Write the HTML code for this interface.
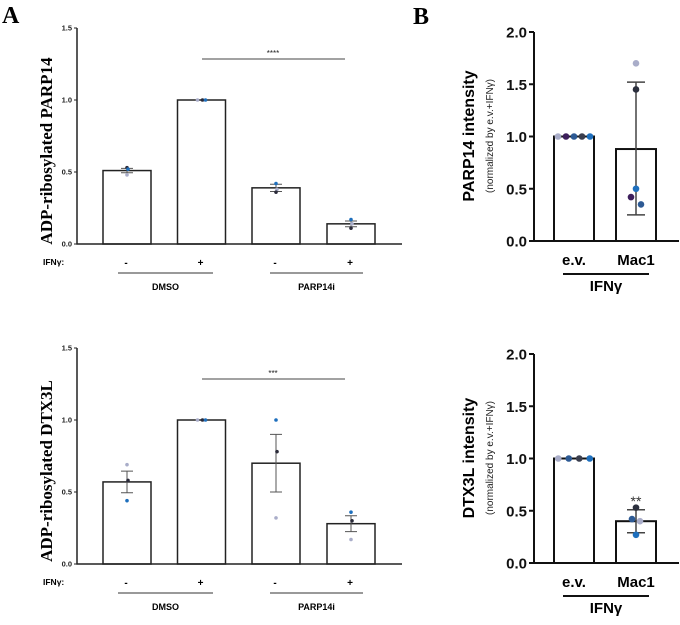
<!DOCTYPE html>
<html><head><meta charset="utf-8"><style>
body{margin:0;background:#fff;}
svg{display:block;font-family:"Liberation Sans",sans-serif;}
</style></head><body>
<svg id="fig" width="680" height="625" viewBox="0 0 680 625" xmlns="http://www.w3.org/2000/svg">
<text x="2" y="23" font-family="Liberation Serif" font-weight="bold" font-size="24">A</text>
<text x="413" y="24" font-family="Liberation Serif" font-weight="bold" font-size="24">B</text>
</svg>
<script>
// Panel A top: PARP14
const aCats = ["DMSO -", "DMSO +", "PARP14i -", "PARP14i +"];
const aTopMeans = [0.51, 1.0, 0.39, 0.14];
const aTopErr = [0.015, 0.0, 0.025, 0.02];
const aTopDots = [[0.53,0.52,0.48],[1.0,1.0,1.0],[0.42,0.38,0.36],[0.17,0.14,0.11]];
// Panel A bottom: DTX3L
const aBotMeans = [0.57, 1.0, 0.70, 0.28];
const aBotErr = [0.075, 0.0, 0.20, 0.055];
const aBotDots = [[0.69,0.58,0.44],[1.0,1.0,1.0],[1.0,0.78,0.32],[0.36,0.30,0.17]];
const aTicks = [0.0, 0.5, 1.0, 1.5];
// Panel B
const bCats = ["e.v.", "Mac1"];
const bTopMeans = [1.0, 0.88];
const bTopErrLow = [1.0, 0.25];
const bTopErrHigh = [1.0, 1.52];
const bTopDots = [[1,1,1,1,1],[1.70,1.45,0.50,0.42,0.35]];
const bBotMeans = [1.0, 0.40];
const bBotErrLow = [1.0, 0.29];
const bBotErrHigh = [1.0, 0.51];
const bBotDots = [[1,1,1,1],[0.53,0.42,0.40,0.27]];
const bTicks = [0.0, 0.5, 1.0, 1.5, 2.0];

const NS="http://www.w3.org/2000/svg";
const svg=document.getElementById('fig');
function mk(tag,attrs,parent){const e=document.createElementNS(NS,tag);for(const k in attrs)e.setAttribute(k,attrs[k]);(parent||svg).appendChild(e);return e;}
function txt(x,y,s,attrs,parent){const e=mk('text',Object.assign({x:x,y:y},attrs),parent);e.textContent=s;return e;}
const dotColsA=[["#2b2b3a","#1e6fbd","#a9adc9"],["#a9adc9","#2b2b3a","#1e6fbd"],["#1e6fbd","#a9adc9","#2b2b3a"],["#1e6fbd","#a9adc9","#2b2b3a"]];
const dotColsABot=[["#a9adc9","#2b2b3a","#1e6fbd"],["#a9adc9","#2b2b3a","#1e6fbd"],["#1e6fbd","#2b2b3a","#a9adc9"],["#1e6fbd","#2b2b3a","#a9adc9"]];

function panelA(oy,means,err,dots,cols,title,stars,name){
  const g=mk('g',{});
  
  
  const y0=oy+215, yS=v=>y0-v*144, axX=77;
  const xs=[127,201.5,276,351], bw=48;
  aTicks.forEach(t=>{
    const l=mk('line',{x1:axX-3,x2:axX,y1:yS(t),y2:yS(t),stroke:'#222','stroke-width':1},g);
    
    const tl=txt(axX-5,yS(t)+2.5,t.toFixed(1),{'font-size':7.5,'font-weight':'bold','text-anchor':'end',fill:'#222'},g);
    
  });
  means.forEach((m,i)=>{
    const r=mk('rect',{x:xs[i]-bw/2,y:yS(m),width:bw,height:m*144,fill:'#fff',stroke:'#222','stroke-width':1.5},g);
    
    if(err[i]>0){
      const e=mk('path',{d:`M${xs[i]} ${yS(m-err[i])}V${yS(m+err[i])}M${xs[i]-6} ${yS(m-err[i])}h12M${xs[i]-6} ${yS(m+err[i])}h12`,stroke:'#555','stroke-width':1,fill:'none'},g);
      
    }
    dots[i].forEach((d,j)=>{
      const dx = dots[i].every(v=>v===dots[i][0]) ? (j-1)*4 : 0;
      const c=mk('circle',{cx:xs[i]+dx+(j===1&&dx===0?1:0),cy:yS(d),r:1.8,fill:cols[i][j]},g);
      
    });
  });
  const ax=mk('path',{d:`M${axX} ${yS(1.5)}V${y0}H402`,stroke:'#222','stroke-width':1.5,fill:'none'},g);
  
  const sl=mk('line',{x1:202,x2:345,y1:oy+30,y2:oy+30,stroke:'#444','stroke-width':1},g);
  
  const st=txt(273,oy+27,stars,{'font-size':8,'text-anchor':'middle',fill:'#222'},g);
  
  const yt=txt(0,0,title,{'font-family':'Liberation Serif','font-weight':'bold','font-size':17,'text-anchor':'middle',transform:`translate(52 ${oy+122}) rotate(-90)`},g);
  
  const il=txt(43,oy+236,'IFNγ:',{'font-size':8.5,'font-weight':'bold'},g);
  
  ['-','+','-','+'].forEach((s,i)=>{const t=txt(xs[i]-1,oy+237,s,{'font-size':10,'font-weight':'bold','text-anchor':'middle'},g);});
  [[118,213,'DMSO'],[270,363,'PARP14i']].forEach(a=>{
    const l=mk('line',{x1:a[0],x2:a[1],y1:oy+244,y2:oy+244,stroke:'#333','stroke-width':1},g);
    
    const t=txt((a[0]+a[1])/2,oy+261,a[2],{'font-size':9,'font-weight':'bold','text-anchor':'middle'},g);
    
  });
}
panelA(29,aTopMeans,aTopErr,aTopDots,dotColsA,'ADP-ribosylated PARP14','****','panel-a-parp14');
panelA(349,aBotMeans,aBotErr,aBotDots,dotColsABot,'ADP-ribosylated DTX3L','***','panel-a-dtx3l');

function panelB(oy,means,lo,hi,dots,cols,title,stars,name){
  const g=mk('g',{});
  
  
  const y0=oy+209, yS=v=>y0-v*104.5, axX=534;
  const xs=[574,636], bw=40;
  bTicks.forEach(t=>{
    const l=mk('line',{x1:axX-5,x2:axX,y1:yS(t),y2:yS(t),stroke:'#111','stroke-width':2},g);
    
    const tl=txt(axX-7,yS(t)+5.5,t.toFixed(1),{'font-size':15,'font-weight':'bold','text-anchor':'end',fill:'#111'},g);
    
  });
  means.forEach((m,i)=>{
    const r=mk('rect',{x:xs[i]-bw/2,y:yS(m),width:bw,height:m*104.5,fill:'#fff',stroke:'#111','stroke-width':2},g);
    
    if(hi[i]!==lo[i]){
      const e=mk('path',{d:`M${xs[i]} ${yS(lo[i])}V${yS(hi[i])}M${xs[i]-9} ${yS(lo[i])}h18M${xs[i]-9} ${yS(hi[i])}h18`,stroke:'#444','stroke-width':1.5,fill:'none'},g);
      
    }
    const n=dots[i].length;
    dots[i].forEach((d,j)=>{
      let dx;
      if(i===0) dx=(j-(n-1)/2)*(n===5?8:10.5);
      else dx=(n===5?[0,0,0,-5,5][j]:[0,-4,4,0][j]);
      const c=mk('circle',{cx:xs[i]+dx,cy:yS(d),r:3.3,fill:cols[i][j]},g);
      
    });
  });
  const ax=mk('path',{d:`M${axX} ${yS(2)}V${y0}H679`,stroke:'#111','stroke-width':2,fill:'none'},g);
  
  if(stars){const st=txt(636,oy+194-means[1]*104.5+0,stars,{'font-size':14,'text-anchor':'middle',fill:'#333'},g);}
  const yt=txt(0,0,title,{'font-weight':'bold','font-size':16,'text-anchor':'middle',transform:`translate(474 ${oy+104}) rotate(-90)`},g);
  
  const ys=txt(0,0,'(normalized by e.v.+IFNγ)',{'font-size':10,'text-anchor':'middle',fill:'#222',transform:`translate(493 ${oy+104}) rotate(-90)`},g);
  
  bCats.forEach((c,i)=>{const t=txt(xs[i],oy+233,c,{'font-size':15,'font-weight':'bold','text-anchor':'middle'},g);});
  const l=mk('line',{x1:563,x2:649,y1:oy+242,y2:oy+242,stroke:'#111','stroke-width':2},g);
  
  const t=txt(606,oy+259,'IFNγ',{'font-size':15,'font-weight':'bold','text-anchor':'middle'},g);
  
}
panelB(32,bTopMeans,bTopErrLow,bTopErrHigh,bTopDots,[["#a9adc9","#3d1f5c","#2d5a94","#3a3e4e","#1e6fbd"],["#a9adc9","#2b2f3d","#1e6fbd","#3d1f5c","#2d5a94"]],'PARP14 intensity','','panel-b-parp14');
panelB(354,bBotMeans,bBotErrLow,bBotErrHigh,bBotDots,[["#a9adc9","#2d5a94","#3a3e4e","#1e6fbd"],["#2b2f3d","#2d5a94","#a9adc9","#1e6fbd"]],'DTX3L intensity','**','panel-b-dtx3l');
</script>
</body></html>
